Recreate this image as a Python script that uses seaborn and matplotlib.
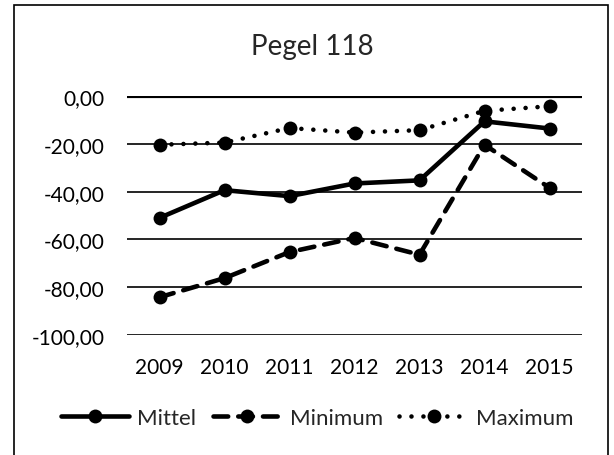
import pandas as pd
import seaborn as sns
import matplotlib.pyplot as plt
from matplotlib.patches import Rectangle
from matplotlib.lines import Line2D

years = ["2009", "2010", "2011", "2012", "2013", "2014", "2015"]
mittel = [-51.0, -39.4, -41.9, -36.6, -35.3, -10.6, -13.6]
minimum = [-84.2, -76.2, -65.3, -59.4, -66.4, -20.4, -38.4]
maximum = [-20.4, -19.5, -13.4, -15.3, -14.3, -6.2, -4.3]
y_ticks = [0, -20, -40, -60, -80, -100]

sns.set_style("white")
plt.rcParams["font.family"] = ["Lato", "DejaVu Sans"]

fig = plt.figure(figsize=(6.14, 4.56), dpi=100)
ax = fig.add_axes([127 / 614, 1 - 336 / 456, 455 / 614, 239 / 456])

# horizontal gridlines, thick one at zero
for t in y_ticks:
    ax.axhline(t, color="black", lw=3.0 if t == 0 else 1.2, zorder=1)

series = [
    ("Mittel", mittel, "-"),
    ("Minimum", minimum, (0, (3.2, 2.2))),
    ("Maximum", maximum, (0, (0.01, 2.6))),
]
for name, vals, ls in series:
    df = pd.DataFrame({"year": years, "value": vals})
    sns.lineplot(data=df, x="year", y="value", ax=ax, color="black", lw=3.3,
                 linestyle=ls, marker="o", markersize=10, markeredgewidth=0,
                 dash_capstyle="round", solid_capstyle="round", zorder=3, clip_on=False)

ax.set_xlim(-0.5, 6.5)
ax.set_ylim(-100, 0)
ax.set_yticks(y_ticks)
ax.set_yticklabels([f"{t:.2f}".replace(".", ",") for t in y_ticks])
ax.tick_params(axis="both", length=0, labelsize=15, colors="black")
ax.tick_params(axis="y", pad=16)
ax.tick_params(axis="x", pad=16)
ax.set_xlabel("")
ax.set_ylabel("")
for s in ax.spines.values():
    s.set_visible(False)

fig.text(312 / 614, 1 - 47 / 456, "Pegel 118", ha="center", va="center", fontsize=20)

handles = [Line2D([0], [0], color="black", lw=3.3, linestyle=ls, marker="o", markersize=10,
                  markeredgewidth=0, dash_capstyle="round") for _, _, ls in series]
fig.legend(handles, [s[0] for s in series], loc="center", bbox_to_anchor=(317 / 614, 1 - 419 / 456),
           ncol=3, frameon=False, fontsize=16, handlelength=3.1, handletextpad=0.35,
           columnspacing=0.75)

fig.patches.append(Rectangle((14 / 614, -0.05), 594 / 614, 1.05 - 6 / 456, transform=fig.transFigure,
                             fill=False, edgecolor="black", lw=1.2))

fig.savefig("out.png", dpi=100)
